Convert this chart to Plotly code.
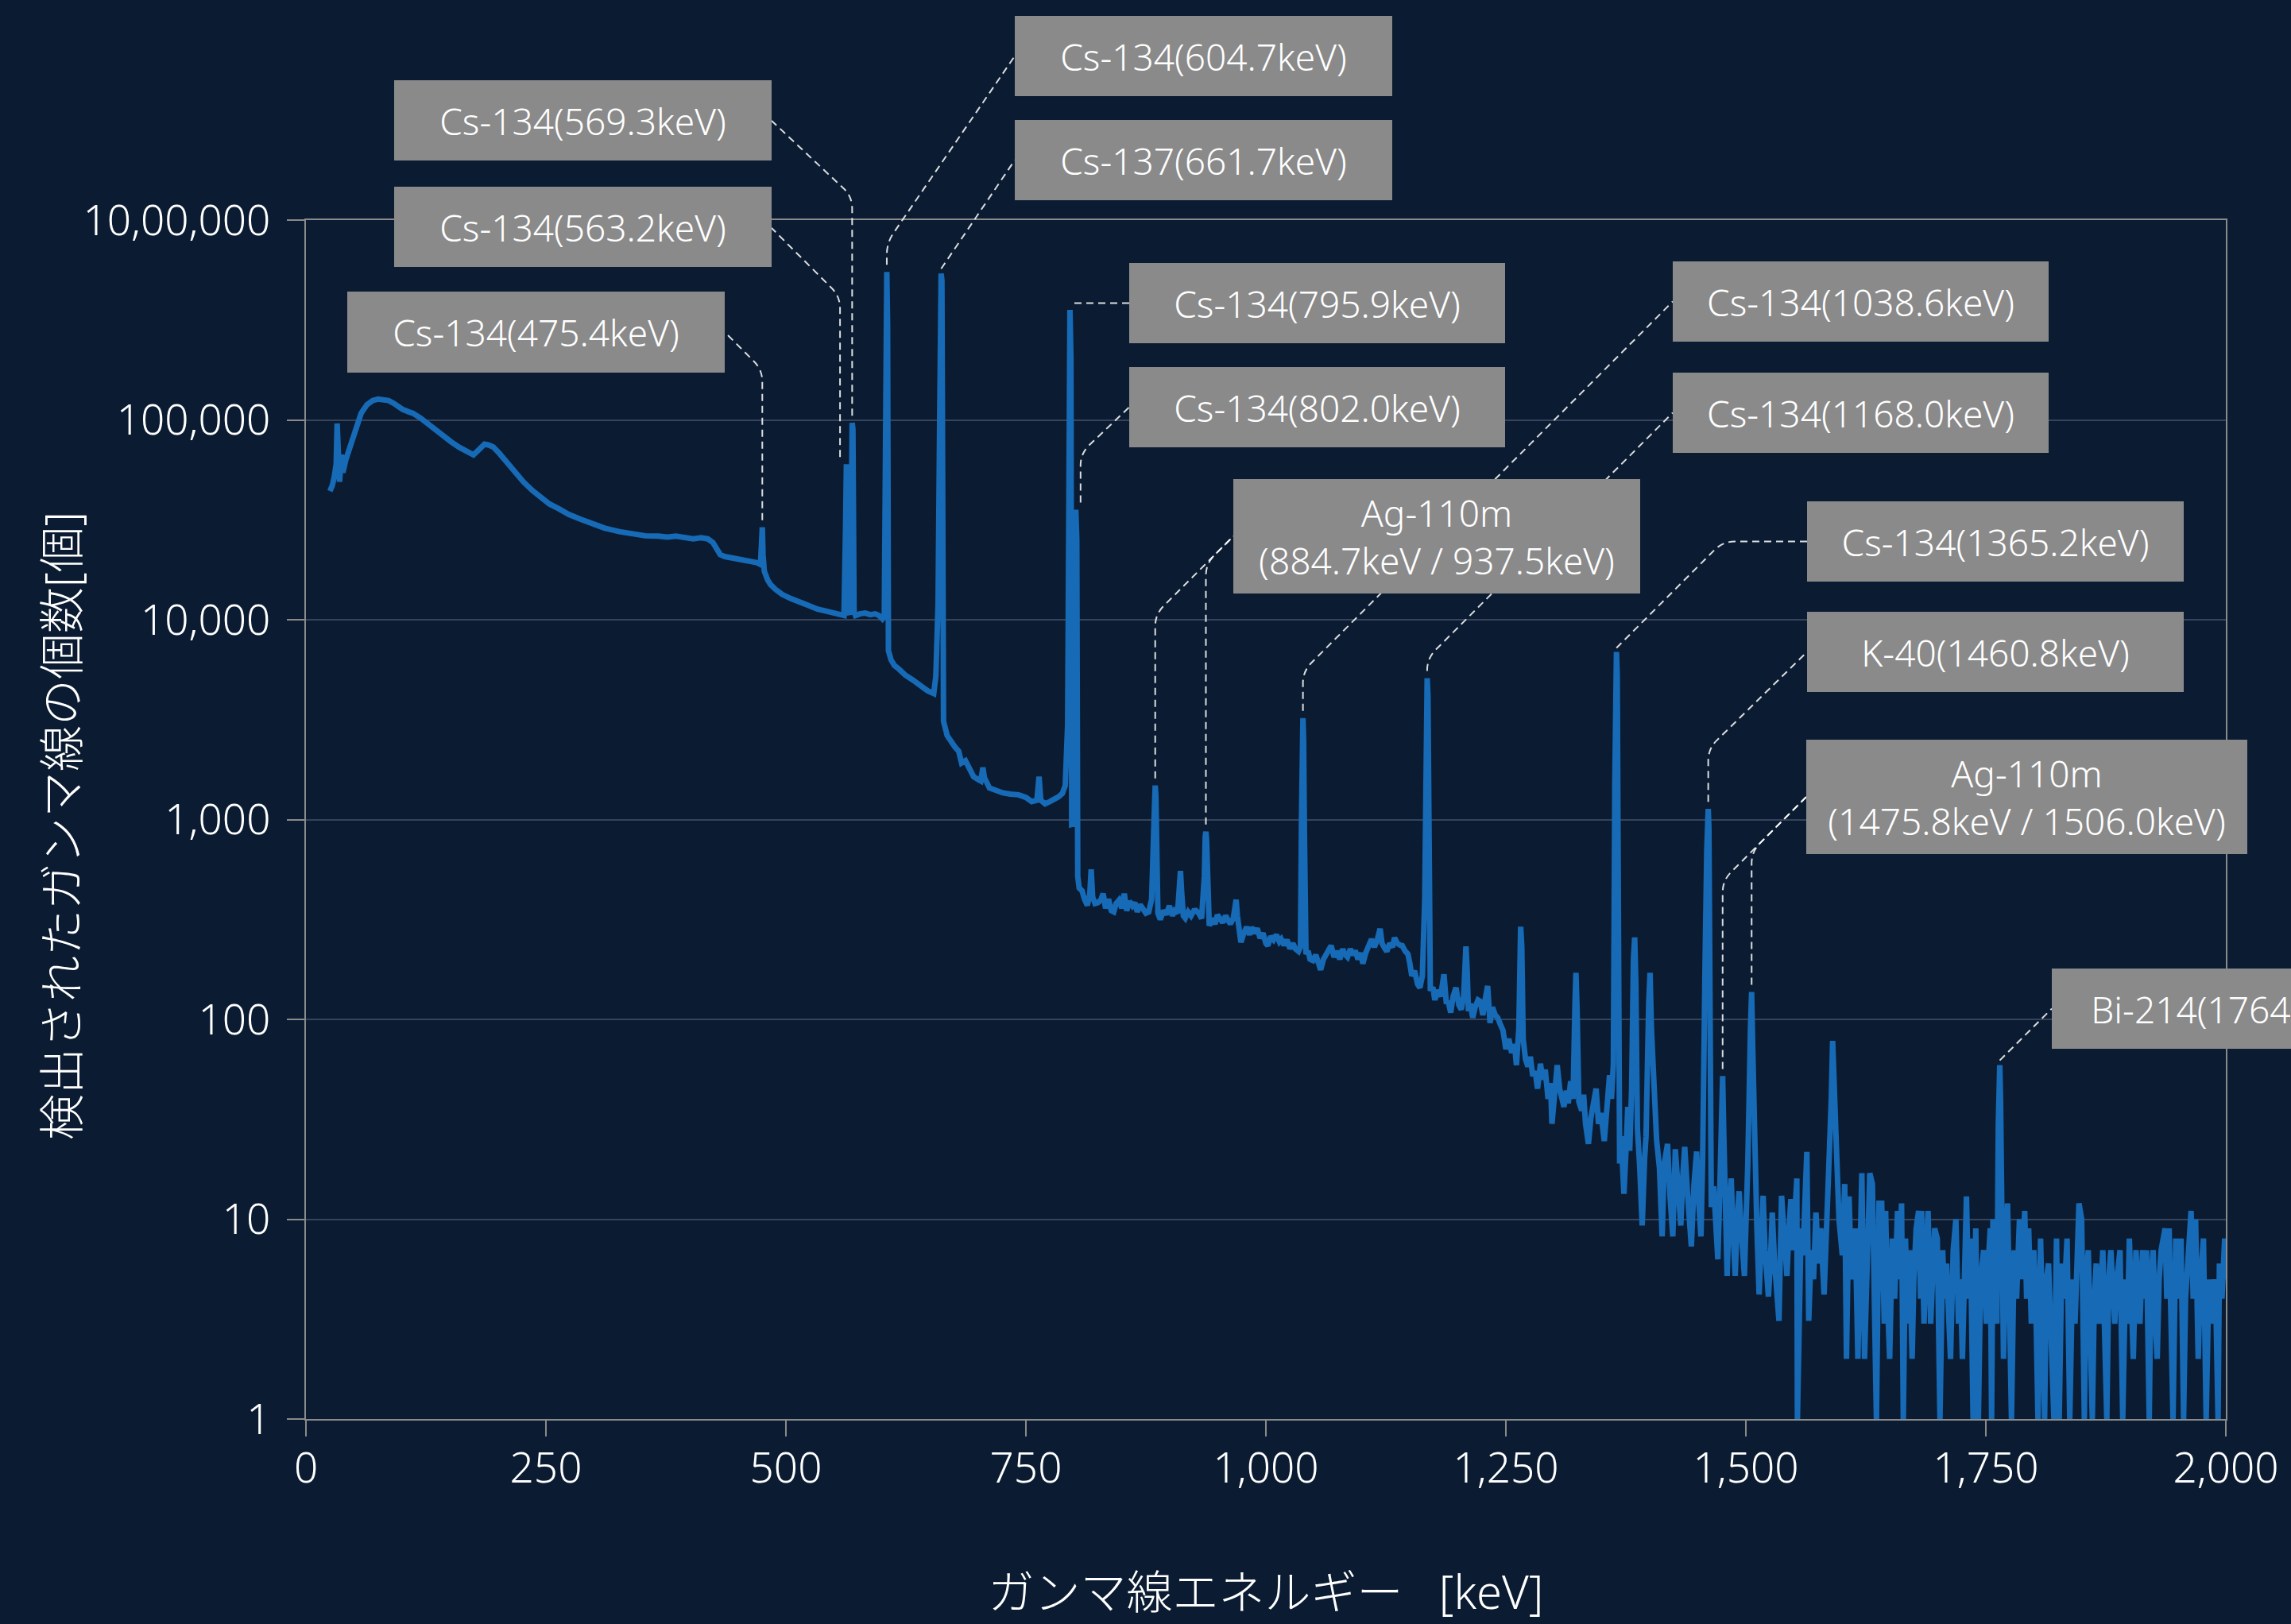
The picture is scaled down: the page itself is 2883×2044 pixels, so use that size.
import math
import plotly.graph_objects as go

# ---------------------------------------------------------------------------
# Gamma-ray spectrum: (energy [keV], detected counts)
# ---------------------------------------------------------------------------
spectrum_low = [
    (25, 44000), (27.5, 47000), (29.5, 52000), (31.5, 60000), (32.5, 96000), (33.5, 62000),
    (35, 49000), (37, 67000), (38.5, 54500), (41.5, 63000), (45.5, 73000), (49.5, 85000),
    (52.5, 94500), (57.5, 108000), (63.5, 119000), (69.5, 125000), (75, 127000), (80.5, 126000),
    (86, 125000), (91.5, 121000), (96.5, 116000), (100.5, 113000), (106.5, 110000), (111.5, 108000),
    (119.5, 102000), (126.5, 95700), (136.5, 88000), (145, 82200), (151.5, 77500), (160, 72800),
    (167.5, 69500), (174.5, 66800), (179.5, 70500), (186, 75600), (190.5, 74800), (195, 73300),
    (201.5, 68000), (208, 62500), (216.5, 55500), (226.5, 49000), (235.5, 44500), (245, 40800),
    (253.5, 38000), (263.5, 35900), (273.5, 33700), (285.5, 31900), (298.5, 30100), (311.5, 28700),
    (326.5, 27600), (341, 26700), (353.5, 26300), (367, 26200), (376.5, 25900), (385.5, 26200),
    (394.5, 25700), (403.5, 25400), (411.5, 25700), (418.5, 25400), (424, 24300), (427.5, 22500),
    (431.5, 21200), (436.5, 20700), (441, 20500), (451.5, 20100), (463, 19700), (469.5, 19300),
    (473.5, 18900), (474.6, 24000), (475.4, 29000), (476.2, 21000), (477.5, 17500), (481, 15800),
    (484, 15000), (489, 14200), (496, 13400), (504.5, 12800), (514.5, 12200), (523.5, 11700),
    (533, 11300), (543.5, 11000), (550, 10800), (556, 10600), (560.5, 10500),
]

spectrum_cs = [
    (562.2, 30000), (563.0, 60000), (563.8, 52000), (565, 11000), (566.3, 10600),
    (568.3, 40000), (569.0, 96600), (569.8, 90000), (571, 11000), (572.5, 10500),
    (577, 10700), (582.5, 10800), (588, 10600), (593, 10700), (597, 10500), (600.5, 10100),
    (602.5, 10400), (603.6, 200000), (604.3, 540000), (605.1, 550000), (605.9, 300000),
    (606.8, 7000), (609.5, 6300), (613, 5900), (618, 5650), (624, 5300), (632, 5000),
    (638, 4800), (643, 4580), (648, 4400), (654, 4270), (656.2, 5220), (658.5, 12000),
    (660.0, 80000), (660.9, 400000), (661.7, 540000), (662.5, 500000), (663.3, 60000),
    (664.2, 3100), (668, 2630), (672, 2450), (676, 2310), (680, 2200), (683, 1920),
    (687, 1970), (691, 1800), (695.5, 1640), (699, 1600), (703, 1560), (705.2, 1820),
    (706.8, 1620), (712, 1440), (718, 1400), (726, 1360), (734, 1340), (742.5, 1330),
    (750, 1290), (756, 1230), (761.5, 1250), (763.7, 1640), (765.5, 1250), (770, 1200),
    (775, 1230), (780, 1260), (784, 1300), (788, 1350), (791, 1480), (793.5, 3000),
    (794.8, 150000), (795.9, 355000), (796.9, 200000), (797.7, 945), (799.5, 950),
    (800.8, 20000), (802.0, 35500), (803.0, 25000), (804.0, 520),
]

spectrum_mid = [
    (805.5, 455), (808.5, 440), (811, 400), (814, 372), (816.5, 420), (818, 563), (819.5, 410),
    (822, 380), (825, 384), (828, 395), (830.5, 426), (833, 360), (836, 400), (839, 350),
    (841.5, 345), (844, 380), (847, 395), (850, 360), (852.5, 426), (855, 350), (858, 390),
    (861, 370), (863.5, 384), (866, 345), (869, 375), (872, 352), (875, 340), (878, 345),
    (881, 400), (883.2, 900), (884.0, 1350), (884.7, 1480), (885.4, 1300), (886.3, 700),
    (887.5, 340), (890, 316), (893, 350), (896, 335), (899.5, 370), (902.5, 330), (905, 350),
    (908, 340), (909.8, 470), (911, 553), (912.3, 430), (914, 330), (916, 321), (919, 345),
    (922, 330), (925, 350), (927, 351), (930, 340), (933, 320), (935.9, 520), (936.8, 820),
    (937.5, 870), (938.2, 790), (939.2, 420), (941, 294), (944, 320), (947, 300), (949.5, 333),
    (952, 318), (955, 305), (958, 330), (960.5, 310), (963, 300), (966, 320), (968, 370),
    (969, 397), (970.3, 330), (972, 280), (974, 243), (977, 270), (980, 290), (983, 265),
    (985, 289), (988, 270), (991, 285), (994, 255), (997, 270), (1000, 240), (1002, 234),
    (1005, 260), (1008, 250), (1011, 265), (1014, 245), (1016, 252), (1019, 235), (1022, 250),
    (1025, 226), (1028, 240), (1031, 225), (1034, 219), (1036, 230), (1037.1, 1000),
    (1037.9, 2600), (1038.6, 3220), (1039.3, 2500), (1040.2, 800), (1041.8, 212), (1044, 220),
    (1046, 200), (1049, 197), (1052, 210), (1055, 190), (1057, 177), (1060, 200), (1063, 215),
    (1066, 225), (1068, 234), (1071, 205), (1074, 220), (1077, 200), (1080, 225), (1082, 212),
    (1085, 205), (1088, 225), (1091, 210), (1093, 221), (1096, 200), (1099, 215), (1101, 190),
    (1104, 215), (1107, 235), (1110, 252), (1113, 230), (1116, 250), (1119, 284), (1121, 240),
    (1124, 226), (1126, 219), (1129, 240), (1132, 230), (1134, 256), (1137, 240), (1140, 235),
    (1142, 234), (1145, 220), (1148, 212), (1150, 190), (1152, 165), (1155, 175), (1158, 150),
    (1160.5, 144), (1163, 165), (1165.5, 400), (1166.5, 2800), (1167.3, 4600), (1168.0, 5100),
    (1168.8, 4200), (1169.7, 1200), (1171.3, 139), (1174, 145), (1176, 125), (1179, 140),
    (1182, 130), (1185.5, 168), (1188, 120), (1190, 123), (1192.5, 108), (1195, 130),
    (1198, 144), (1201, 118), (1203.5, 112), (1206, 130), (1208.4, 232), (1209.6, 180),
    (1211, 110), (1213, 120), (1215.5, 102), (1218, 115), (1221, 125), (1223.5, 123),
    (1226, 105), (1229, 130), (1231, 147), (1233.5, 96), (1236, 115), (1239, 105),
    (1241.5, 102), (1244, 95), (1247, 88), (1250, 71), (1253, 80), (1256, 68), (1259, 75),
    (1261, 59), (1263.5, 90), (1265.4, 291), (1266.6, 230), (1268, 80), (1270.5, 63),
    (1273, 58), (1275.5, 65), (1278, 52), (1280.5, 55), (1283, 45), (1286, 60), (1288.5, 50),
    (1291, 56), (1294, 40), (1296.5, 48), (1298, 30), (1301, 42), (1303.5, 59), (1306, 45),
    (1308, 40), (1310.5, 36.5), (1313, 44), (1315, 38), (1317.5, 49), (1320, 40), (1322, 120),
    (1323, 171), (1324.2, 110), (1326, 38.7), (1329, 35), (1331, 42), (1333, 30), (1336, 23.8),
    (1338.5, 32), (1341, 38), (1344, 45), (1346.5, 30), (1349, 34), (1352.5, 24.6), (1355, 35),
    (1358, 52.5), (1360, 40), (1362, 60), (1363.5, 1500), (1364.4, 5500), (1365.2, 6900),
    (1366.0, 5200), (1366.9, 900), (1368.5, 19), (1370, 26), (1373, 13.4), (1375.5, 24),
    (1377, 36.5), (1379, 22), (1381, 45), (1382.9, 200), (1384.2, 257), (1385.4, 150),
    (1387, 28.5), (1389.5, 18), (1392, 9.3), (1394.5, 20), (1396, 26), (1398.8, 120),
    (1400.2, 171), (1401.6, 90), (1404.5, 38.7), (1407, 25), (1410, 18), (1412.8, 8.2),
    (1415, 19), (1418.4, 23.8), (1421, 13), (1423.9, 8.2), (1426.5, 22.4), (1429, 15),
    (1432.2, 9.3), (1434.5, 17), (1436.3, 23), (1439, 14), (1443.2, 7.3), (1446, 15),
    (1448.7, 21.8), (1451, 12), (1453.2, 8.2), (1455.0, 20), (1456.2, 160), (1457.5, 190),
    (1459.3, 700), (1460.1, 1050), (1460.8, 1130), (1461.5, 900), (1462.5, 60), (1464, 11.5),
    (1466.5, 14.6), (1469, 9), (1470.8, 6.3), (1472.5, 12), (1474.7, 30), (1475.8, 52),
    (1476.9, 28), (1478.5, 9), (1480.5, 5.2), (1482.5, 11), (1484.7, 16), (1487, 8),
    (1488.9, 5.2), (1491, 10), (1493, 13.8), (1495, 9), (1498.5, 5.2), (1500.5, 11),
    (1502, 18.7), (1504.8, 90), (1506.0, 137), (1507.2, 70), (1509.5, 16), (1511.5, 9),
    (1513.8, 4.2), (1516, 8), (1518, 13.1), (1520, 7), (1523.5, 4.1), (1525.5, 6),
    (1527.5, 10.8), (1530, 6), (1534.5, 3.1), (1537.2, 13.1), (1540, 8), (1542.8, 5.2),
    (1545, 9), (1546.9, 12.6), (1549, 7), (1551, 10), (1553.1, 16), (1553.7, 1), (1555, 3),
    (1557.5, 9), (1559.5, 6.6), (1562, 12), (1563.5, 21.7), (1565.5, 3.1), (1568, 7),
    (1570.5, 5), (1573, 10.8), (1576, 6), (1578, 9), (1581.5, 4.2), (1584, 9), (1587, 15.5),
    (1589, 40), (1590.4, 78), (1591.8, 45), (1594.5, 23), (1597, 10), (1600.5, 6.6),
    (1603, 15), (1604.8, 2),
]

spectrum_high = [
    (1607.5, 13), (1610, 5), (1614, 9), (1616.7, 2), (1618.5, 6), (1620.8, 17), (1623.6, 2),
    (1626, 7), (1629.1, 17), (1631.8, 15), (1634, 4), (1636, 1), (1638.7, 12), (1641.5, 12),
    (1644.2, 3), (1645.6, 11), (1647.5, 4), (1649.8, 2), (1652.5, 8), (1655, 4), (1658, 11),
    (1660, 5), (1662.2, 12), (1664, 1), (1666.3, 8), (1668.5, 3), (1670.5, 7), (1673.2, 2),
    (1675, 5), (1677.4, 9), (1680, 11), (1682, 4), (1683, 11), (1685.6, 3), (1687.5, 6),
    (1689.8, 11), (1692.5, 3), (1694.5, 5), (1696.7, 9), (1699.4, 8), (1702.2, 1), (1705, 7),
    (1707, 4), (1709, 6), (1711, 3), (1713.2, 2), (1716, 7), (1718.8, 10), (1721.5, 3),
    (1723.5, 5), (1725.6, 2), (1727.5, 6), (1729.8, 13), (1732, 4), (1734, 8), (1736.7, 1),
    (1739.5, 9), (1742.2, 1), (1744.5, 5), (1747.7, 7), (1750.5, 3), (1752.5, 6), (1754.6, 9),
    (1756, 1), (1757.4, 10), (1759.5, 5), (1761.5, 3), (1763.0, 30), (1764.0, 55), (1764.5, 59),
    (1765.3, 40), (1766.5, 6), (1768.4, 2), (1770.5, 7), (1772.6, 12), (1774.5, 4), (1776.7, 1),
    (1779.5, 7), (1782, 4), (1785, 10), (1787.5, 5), (1790.5, 11), (1792.5, 4), (1794.6, 9),
    (1797.4, 3), (1800, 7), (1802, 4), (1804.3, 1), (1807, 8), (1809, 3), (1811.2, 1),
    (1813, 5), (1815.3, 6), (1817.5, 3), (1820.9, 1), (1823.6, 8), (1826.4, 1), (1829.1, 6),
    (1831.5, 4), (1834.6, 8), (1837.4, 1), (1840.2, 5), (1842.9, 3), (1845, 6), (1847, 12),
    (1849.8, 10), (1852.6, 1), (1854.5, 5), (1856.7, 7), (1858.5, 3), (1860.9, 1), (1863, 4),
    (1865, 6), (1867.8, 3), (1869.5, 5), (1871.9, 7), (1873.5, 3), (1876, 1), (1878, 5),
    (1880.2, 7), (1884.3, 3), (1886.5, 5), (1889.8, 7), (1892.6, 1), (1895.4, 5), (1897.5, 3),
    (1899.5, 8), (1901.5, 4), (1903.6, 2), (1906.4, 7), (1908.5, 4), (1910.5, 3), (1913.3, 7),
    (1915, 4), (1917.4, 7), (1920.2, 1), (1922, 5), (1924.3, 7), (1926.5, 3), (1928.5, 2),
    (1930.5, 5), (1932.6, 7), (1936.7, 9), (1938.5, 4), (1940.9, 9), (1943, 3), (1945, 1),
    (1947.8, 8), (1950, 4), (1953.3, 8), (1956, 1), (1958, 4), (1960.2, 6), (1963.8, 11),
    (1966, 4), (1968.5, 10), (1971.2, 2), (1973.5, 5), (1976.7, 8), (1979.5, 1), (1982.3, 5),
    (1984.5, 3), (1987.8, 5), (1990, 3), (1991.9, 1), (1993.3, 6), (1996, 4), (1998.8, 8),
    (2000, 5),
]

# Axis ticks
x_tick_values = [0, 250, 500, 750, 1000, 1250, 1500, 1750, 2000]
x_tick_labels = ["0", "250", "500", "750", "1,000", "1,250", "1,500", "1,750", "2,000"]
y_tick_values = [1, 10, 100, 1000, 10000, 100000, 1000000]
y_tick_labels = ["1", "10", "100", "1,000", "10,000", "100,000", "10,00,000"]

# Identified nuclide lines
box_texts = [
    "Cs-134(475.4keV)", "Cs-134(563.2keV)", "Cs-134(569.3keV)", "Cs-134(604.7keV)",
    "Cs-137(661.7keV)", "Cs-134(795.9keV)", "Cs-134(802.0keV)",
    "Ag-110m<br>(884.7keV / 937.5keV)", "Cs-134(1038.6keV)", "Cs-134(1168.0keV)",
    "Cs-134(1365.2keV)", "K-40(1460.8keV)", "Ag-110m<br>(1475.8keV / 1506.0keV)",
    "Bi-214(1764.5keV)",
]
line_energies = [475.4, 563.2, 569.3, 604.7, 661.7, 795.9, 802.0, 884.7, 937.5,
                 1038.6, 1168.0, 1365.2, 1460.8, 1475.8, 1506.0, 1764.5]

# ---------------------------------------------------------------------------
# Layout constants
# ---------------------------------------------------------------------------
FIG_W, FIG_H = 2883, 2044
L, T, PW, PH = 385, 277, 2416, 1509
X_MAX = 2000
Y_DEC = 6
BG = "#0b1c32"
AXIS = "#8a8a8a"
GRID = "#36435a"
LINE = "#176ab6"
BOX = "#8a8a8a"
FONT = "Noto Sans, Noto Sans CJK JP, sans-serif"

# label boxes: (left, top, width, height) in pixels
box_rects = [
    (437, 367, 475, 102), (496, 235, 475, 101), (496, 101, 475, 101), (1277, 20, 475, 101),
    (1277, 151, 475, 101), (1421, 331, 473, 101), (1421, 462, 473, 101), (1552, 603, 512, 144),
    (2105, 329, 473, 101), (2105, 469, 473, 101), (2274, 631, 474, 101), (2274, 770, 474, 101),
    (2273, 931, 555, 144), (2582, 1219, 475, 101),
]

# leader lines: (route, attach point on box edge, slope of the slanted run, lead offset)
leaders = [
    ("elbow", (912, 418), 1.0, 0), ("elbow", (971, 287), 1.0, -8), ("elbow", (971, 152), 0.94, 0),
    ("elbow", (1277, 70.5), 1.46, 0), ("direct", (1277, 201.5), None, 0),
    ("level", (1421, 381.5), None, 0), ("elbow", (1421, 512.5), 0.95, 6),
    ("elbow", (1552, 675), 1.0, 0), ("elbow", (1552, 675), 1.0, 0),
    ("elbow", (2105, 379.5), 1.0, 0), ("elbow", (2105, 519.5), 1.0, 0),
    ("step", (2274, 681.5), 1.0, 0), ("elbow", (2274, 820.5), 0.98, 0),
    ("elbow", (2273, 1003), 1.0, 0), ("elbow", (2273, 1003), 1.0, 0),
    ("direct", (2582, 1269.5), None, 0),
]

spectrum = spectrum_low + spectrum_cs + spectrum_mid + spectrum_high
energy = [p[0] for p in spectrum]
counts = [p[1] for p in spectrum]


def data_px(e, c):
    return L + e / X_MAX * PW, T + (1 - math.log10(c) / Y_DEC) * PH


def paper(x, y):
    return (x - L) / PW, 1 - (y - T) / PH


def peak_top(e_line, window=2.5):
    c, e = max((c, e) for e, c in zip(energy, counts) if abs(e - e_line) <= window)
    return data_px(e, c)


def path_str(points):
    out = []
    for cmd, pts in points:
        coords = " ".join("{:.5f},{:.5f}".format(*paper(x, y)) for x, y in pts)
        out.append(cmd + " " + coords)
    return " ".join(out)


def unit(dx, dy):
    n = math.hypot(dx, dy)
    return dx / n, dy / n


def leader_path(e_line, route, attach, slope, dx, r=15, gap=9):
    px, py = peak_top(e_line)
    ax, ay = attach
    if route == "direct":
        return path_str([("M", [(px, py - 6)]), ("L", [(ax, ay)])])
    if route == "level":
        return path_str([("M", [(ax, ay)]), ("L", [(px, ay)])])
    if route == "step":
        ty = py - 5
        cx = px + (ty - ay) / slope
        ux, uy = unit(px - cx, ty - ay)
        return path_str([("M", [(ax, ay)]), ("L", [(cx + r, ay)]),
                         ("Q", [(cx, ay), (cx + r * ux, ay + r * uy)]), ("L", [(px, ty)])])
    lx = px + dx
    cy = ay + abs(ax - lx) * slope
    ux, uy = unit(ax - lx, ay - cy)
    return path_str([("M", [(lx, py - gap)]), ("L", [(lx, cy + r)]),
                     ("Q", [(lx, cy), (lx + r * ux, cy + r * uy)]), ("L", [(ax, ay)])])


fig = go.Figure(
    go.Scatter(x=energy, y=counts, mode="lines", line=dict(color=LINE, width=7),
               hoverinfo="skip", showlegend=False)
)

for e_line, (route, attach, slope, dx) in zip(line_energies, leaders):
    fig.add_shape(type="path", path=leader_path(e_line, route, attach, slope, dx),
                  xref="paper", yref="paper", layer="above",
                  line=dict(color="rgba(255,255,255,0.85)", width=2, dash="9px,6px"))

for text, (left, top, w, h) in zip(box_texts, box_rects):
    xp, yp = paper(left, top)
    fig.add_annotation(x=xp, y=yp, xref="paper", yref="paper", xanchor="left", yanchor="top",
                       text=text, showarrow=False, width=w, height=h, bgcolor=BOX,
                       borderpad=0, borderwidth=0, align="center", valign="middle",
                       font=dict(family=FONT, size=46, color="white", weight=300))

# vertical axis title, set beside the tick labels
ytx, yty = paper(76, 1040)
fig.add_annotation(x=ytx, y=yty, xref="paper", yref="paper", xanchor="center", yanchor="middle",
                   text="検出されたガンマ線の個数[個]", textangle=-90, showarrow=False,
                   font=dict(family=FONT, size=58, color="white", weight=300))

fig.update_layout(
    width=FIG_W, height=FIG_H,
    margin=dict(l=L, r=FIG_W - L - PW, t=T, b=FIG_H - T - PH, pad=0),
    paper_bgcolor=BG, plot_bgcolor=BG,
    font=dict(family=FONT, color="white", weight=300),
    showlegend=False,
)

fig.update_xaxes(
    range=[0, X_MAX], tickvals=x_tick_values, ticktext=x_tick_labels,
    ticks="outside", ticklen=20, tickwidth=2, tickcolor=AXIS,
    showline=True, linecolor=AXIS, linewidth=2, mirror=True,
    showgrid=False, zeroline=False, automargin=False,
    tickfont=dict(family=FONT, size=53, color="white", weight=300),
    ticklabelstandoff=-6,
    title=dict(text="ガンマ線エネルギー\u00a0\u00a0\u00a0[keV]", standoff=104,
               font=dict(family=FONT, size=58, color="white", weight=300)),
)

fig.update_yaxes(
    type="log", range=[0, Y_DEC], tickvals=y_tick_values, ticktext=y_tick_labels,
    ticks="outside", ticklen=22, tickwidth=2, tickcolor=AXIS,
    showline=True, linecolor=AXIS, linewidth=2, mirror=True,
    showgrid=True, gridcolor=GRID, gridwidth=2, zeroline=False, automargin=False,
    tickfont=dict(family=FONT, size=53, color="white", weight=300),
    ticklabelstandoff=10,
)

fig.write_html("out.html")
